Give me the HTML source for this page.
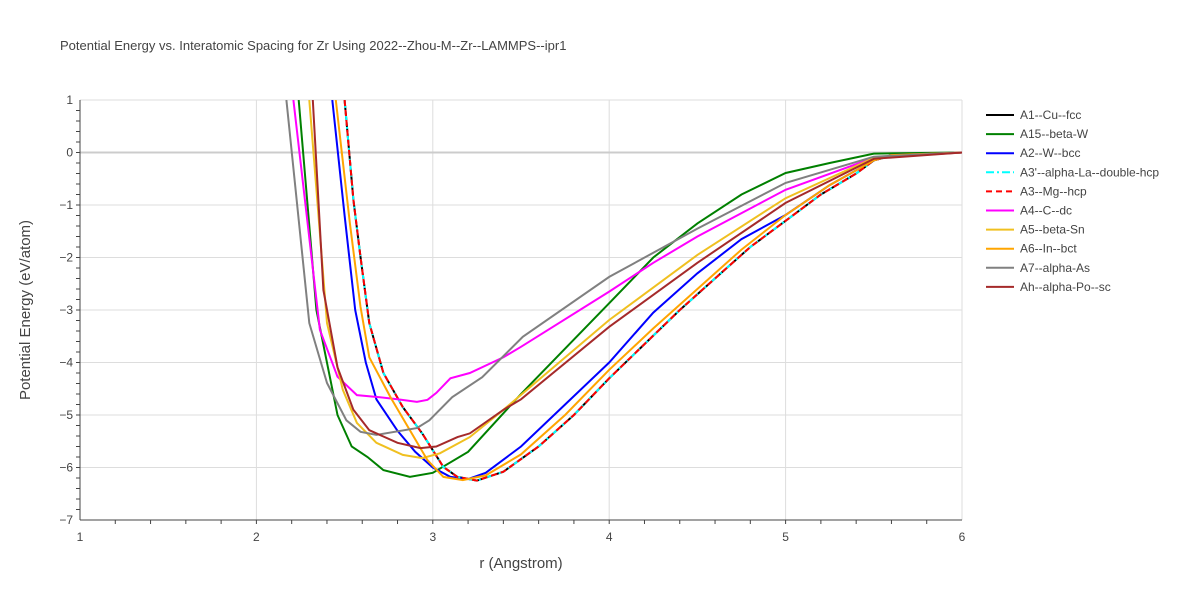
<!DOCTYPE html>
<html><head><meta charset="utf-8"><style>
body{margin:0;background:#fff;font-family:"Liberation Sans",Arial,sans-serif}
svg text{font-family:"Liberation Sans",Arial,sans-serif}
</style></head><body>
<svg id="chart" width="1200" height="600" xmlns="http://www.w3.org/2000/svg">
<rect width="1200" height="600" fill="#fff"/>
<text x="60" y="50" font-size="13" fill="#444">Potential Energy vs. Interatomic Spacing for Zr Using 2022--Zhou-M--Zr--LAMMPS--ipr1</text>
<g id="grid"></g><g id="axes"></g>
<clipPath id="clip"><rect x="80" y="100" width="882" height="420"/></clipPath>
<g id="series" clip-path="url(#clip)"></g>
<g id="legend"></g>
<text x="521" y="568" font-size="15" fill="#444" text-anchor="middle">r (Angstrom)</text>
<text transform="translate(30,310) rotate(-90)" font-size="15" fill="#444" text-anchor="middle">Potential Energy (eV/atom)</text>
</svg>
<script>
const xTicks=[1,2,3,4,5,6];
const yTicks=[1,0,-1,-2,-3,-4,-5,-6,-7];
const seriesNames=["A1--Cu--fcc","A15--beta-W","A2--W--bcc","A3'--alpha-La--double-hcp","A3--Mg--hcp","A4--C--dc","A5--beta-Sn","A6--In--bct","A7--alpha-As","Ah--alpha-Po--sc"];
const seriesColors=["#000000","#008000","#0000ff","#00ffff","#ff0000","#ff00ff","#f0c020","#ffa500","#808080","#a52a2a"];
const seriesDash=["","","","8,3,2,3","6,4","","","","",""];
const fccR=[2.5,2.55,2.59,2.64,2.72,2.83,2.94,3.0,3.06,3.14,3.25,3.4,3.6,3.8,4.0,4.2,4.4,4.6,4.8,5.0,5.2,5.4,5.5,5.6,6];
const fccE=[1,-0.9,-1.99,-3.25,-4.2,-4.85,-5.35,-5.67,-5.99,-6.18,-6.25,-6.08,-5.6,-5.0,-4.3,-3.65,-3.0,-2.4,-1.8,-1.3,-0.8,-0.4,-0.15,-0.06,0];
const a15R=[2.24,2.34,2.46,2.54,2.63,2.72,2.87,3.0,3.2,3.5,4.0,4.25,4.5,4.75,5.0,5.25,5.5,6];
const a15E=[1,-3.0,-5.0,-5.6,-5.8,-6.05,-6.18,-6.1,-5.7,-4.6,-2.87,-2.0,-1.35,-0.8,-0.39,-0.2,-0.02,0];
const bccR=[2.43,2.5,2.56,2.62,2.68,2.8,2.9,3.0,3.1,3.2,3.3,3.5,3.75,4.0,4.25,4.5,4.75,5.0,5.25,5.5,5.6,6];
const bccE=[1,-1.2,-3.0,-4.0,-4.7,-5.3,-5.7,-6.0,-6.18,-6.22,-6.1,-5.6,-4.8,-4.0,-3.05,-2.3,-1.65,-1.19,-0.62,-0.15,-0.05,0];
const dcR=[2.21,2.36,2.46,2.57,2.7,2.8,2.91,2.97,3.02,3.1,3.21,3.4,3.5,4.0,4.25,4.5,5.0,5.5,6];
const dcE=[1,-3.38,-4.27,-4.62,-4.66,-4.7,-4.75,-4.71,-4.58,-4.3,-4.2,-3.9,-3.7,-2.65,-2.1,-1.6,-0.71,-0.1,0];
const snR=[2.3,2.4,2.49,2.57,2.68,2.83,2.94,3.04,3.21,3.4,4.0,4.5,5.0,5.5,6];
const snE=[1,-3.25,-4.52,-5.15,-5.53,-5.76,-5.82,-5.73,-5.42,-4.9,-3.19,-1.95,-0.87,-0.1,0];
const bctR=[2.45,2.53,2.59,2.64,2.76,2.87,2.97,3.06,3.17,3.3,3.5,3.75,4.0,4.25,4.5,4.75,5.0,5.25,5.5,5.6,6];
const bctE=[1,-1.35,-2.94,-3.9,-4.66,-5.29,-5.86,-6.18,-6.24,-6.15,-5.75,-5.0,-4.14,-3.35,-2.6,-1.85,-1.19,-0.62,-0.15,-0.05,0];
const asR=[2.17,2.3,2.4,2.51,2.59,2.68,2.91,2.98,3.11,3.28,3.51,4.0,4.5,5.0,5.5,6];
const asE=[1,-3.25,-4.39,-5.1,-5.32,-5.38,-5.25,-5.1,-4.66,-4.28,-3.51,-2.37,-1.45,-0.58,-0.08,0];
const scR=[2.32,2.38,2.46,2.55,2.64,2.8,2.93,3.02,3.14,3.21,3.4,3.5,4.0,4.5,5.0,5.5,6];
const scE=[1,-2.62,-4.09,-4.9,-5.29,-5.53,-5.63,-5.6,-5.42,-5.35,-4.9,-4.7,-3.32,-2.1,-0.96,-0.12,0];
const seriesR=[fccR,a15R,bccR,fccR,fccR,dcR,snR,bctR,asR,scR];
const seriesE=[fccE,a15E,bccE,fccE,fccE,dcE,snE,bctE,asE,scE];
const NS="http://www.w3.org/2000/svg";
const X=r=>80+(r-1)*176.4;
const Y=e=>100+(1-e)*52.5;
function mk(t,p,a){const e=document.createElementNS(NS,t);for(const k in a)e.setAttribute(k,a[k]);p.appendChild(e);return e;}
const grid=document.getElementById('grid'),axes=document.getElementById('axes'),ser=document.getElementById('series'),leg=document.getElementById('legend');
xTicks.forEach(t=>{
 const l=mk('line',grid,{x1:X(t),x2:X(t),y1:100,y2:520,stroke:'#ddd','stroke-width':1});
 
 
 const tx=mk('text',axes,{x:X(t),y:541,'font-size':12,fill:'#444','text-anchor':'middle'});tx.textContent=t;
 
 
});
for(let t=1.2;t<6;t+=0.2){mk('line',axes,{x1:X(t),x2:X(t),y1:520,y2:524,stroke:'#444','stroke-width':1});}
yTicks.forEach(t=>{
 const l=mk('line',grid,{x1:80,x2:962,y1:Y(t),y2:Y(t),stroke:t===0?'#ccc':'#ddd','stroke-width':t===0?2:1});
 
 
 const tx=mk('text',axes,{x:73,y:Y(t)+4,'font-size':12,fill:'#444','text-anchor':'end'});tx.textContent=t===0?'0':(t<0?'\u2212'+(-t):t);
 
 
});
for(let t=0.8;t>-7;t-=0.2){mk('line',axes,{x1:76,x2:80,y1:Y(t),y2:Y(t),stroke:'#444','stroke-width':1});}
mk('line',axes,{x1:80,x2:962,y1:520,y2:520,stroke:'#444','stroke-width':1});
mk('line',axes,{x1:80,x2:80,y1:100,y2:520,stroke:'#444','stroke-width':1});
seriesNames.forEach((n,i)=>{
 const pts=seriesR[i].map((r,j)=>X(r).toFixed(1)+','+Y(seriesE[i][j]).toFixed(1)).join(' ');
 const a={points:pts,fill:'none',stroke:seriesColors[i],'stroke-width':2};
 if(seriesDash[i])a['stroke-dasharray']=seriesDash[i];
 const p=mk('polyline',ser,a);
 
 
 const y=115+i*19.1;
 const g=mk('g',leg,{});
 
 
 const la={x1:986,x2:1014,y1:y,y2:y,stroke:seriesColors[i],'stroke-width':2};
 if(seriesDash[i])la['stroke-dasharray']=seriesDash[i];
 mk('line',g,la);
 const tx=mk('text',g,{x:1020,y:y+4,'font-size':12,fill:'#444'});tx.textContent=n;
});
</script>
</body></html>
